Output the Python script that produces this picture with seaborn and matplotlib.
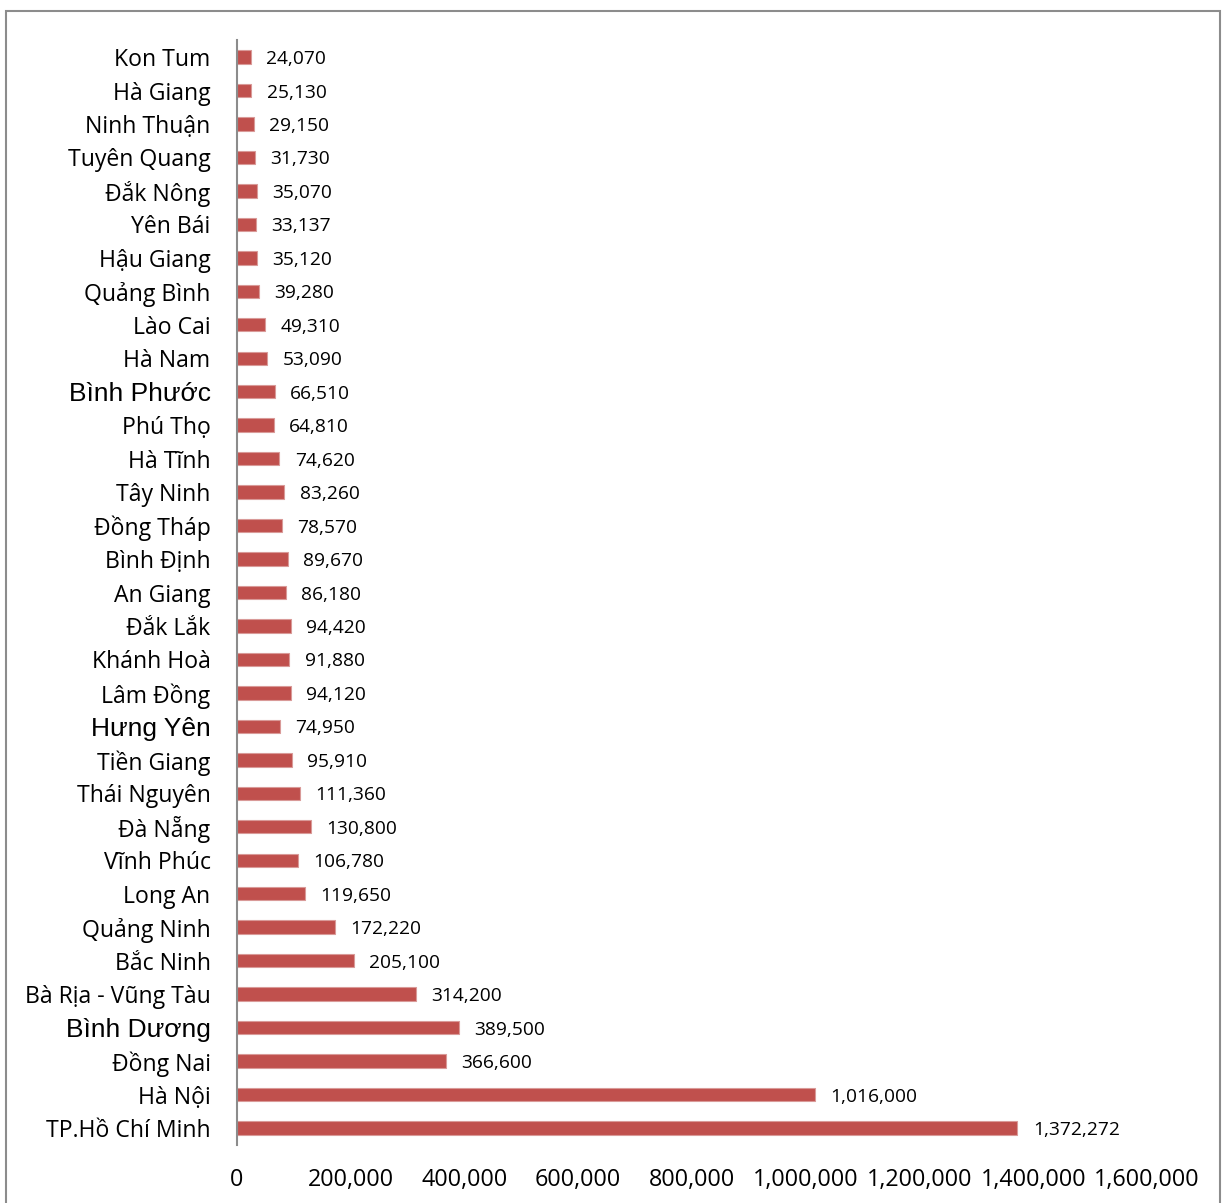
import matplotlib
matplotlib.use("Agg")
import matplotlib.pyplot as plt
import seaborn as sns
import pandas as pd
from matplotlib.patches import Rectangle

provinces = ["Kon Tum", "Hà Giang", "Ninh Thuận", "Tuyên Quang", "Đắk Nông", "Yên Bái",
             "Hậu Giang", "Quảng Bình", "Lào Cai", "Hà Nam", "Bình Phước", "Phú Thọ",
             "Hà Tĩnh", "Tây Ninh", "Đồng Tháp", "Bình Định", "An Giang", "Đắk Lắk",
             "Khánh Hoà", "Lâm Đồng", "Hưng Yên", "Tiền Giang", "Thái Nguyên", "Đà Nẵng",
             "Vĩnh Phúc", "Long An", "Quảng Ninh", "Bắc Ninh", "Bà Rịa - Vũng Tàu",
             "Bình Dương", "Đồng Nai", "Hà Nội", "TP.Hồ Chí Minh"]
values = [24070, 25130, 29150, 31730, 35070, 33137, 35120, 39280, 49310, 53090,
          66510, 64810, 74620, 83260, 78570, 89670, 86180, 94420, 91880, 94120,
          74950, 95910, 111360, 130800, 106780, 119650, 172220, 205100, 314200,
          389500, 366600, 1016000, 1372272]
x_ticks = [0, 200000, 400000, 600000, 800000, 1000000, 1200000, 1400000, 1600000]
arial_labels = {"Bình Phước", "Hưng Yên", "Bình Dương"}

sns.set_theme(style="white")
main_font = ["Open Sans", "Noto Sans", "DejaVu Sans"]
plt.rcParams["font.family"] = main_font

df = pd.DataFrame({"province": provinces, "value": values})

fig = plt.figure(figsize=(12.26, 12.03), dpi=100)
fig.patches.append(Rectangle((6 / 1226, -0.05), 1214 / 1226, 1.05 - 11 / 1203,
                             transform=fig.transFigure, fill=False,
                             edgecolor="#8c8c8c", linewidth=1.5))
ax = fig.add_axes([237 / 1226, 1 - 1144.7 / 1203, (1147 - 237) / 1226, (1144.7 - 40.3) / 1203])

sns.barplot(data=df, y="province", x="value", orient="h", color="#C0504D",
            width=0.4, saturation=1, edgecolor="#d99a98", linewidth=0.8, ax=ax)

ax.set_xlim(0, 1600000)
ax.set_ylim(len(provinces) - 0.5, -0.5)
ax.set_xticks(x_ticks)
ax.set_xticklabels([f"{t:,}" for t in x_ticks], fontsize=16.8, color="black")
ax.tick_params(axis="x", length=0, pad=17)
ax.tick_params(axis="y", length=0, pad=19)
for lab in ax.get_yticklabels():
    if lab.get_text() in arial_labels:
        lab.set_fontfamily(["Liberation Sans", "DejaVu Sans"])
        lab.set_fontsize(19)
    else:
        lab.set_fontsize(16.6)
    lab.set_color("black")
ax.set_xlabel("")
ax.set_ylabel("")
for s in ["top", "right", "bottom"]:
    ax.spines[s].set_visible(False)
ax.spines["left"].set_color("#8c8c8c")
ax.spines["left"].set_linewidth(1.5)

for i, v in enumerate(values):
    ax.annotate(f"{v:,}", xy=(v, i), xytext=(11, 0), textcoords="offset points",
                va="center_baseline", ha="left", fontsize=13.8, color="black")

fig.savefig("out.png", dpi=100)
